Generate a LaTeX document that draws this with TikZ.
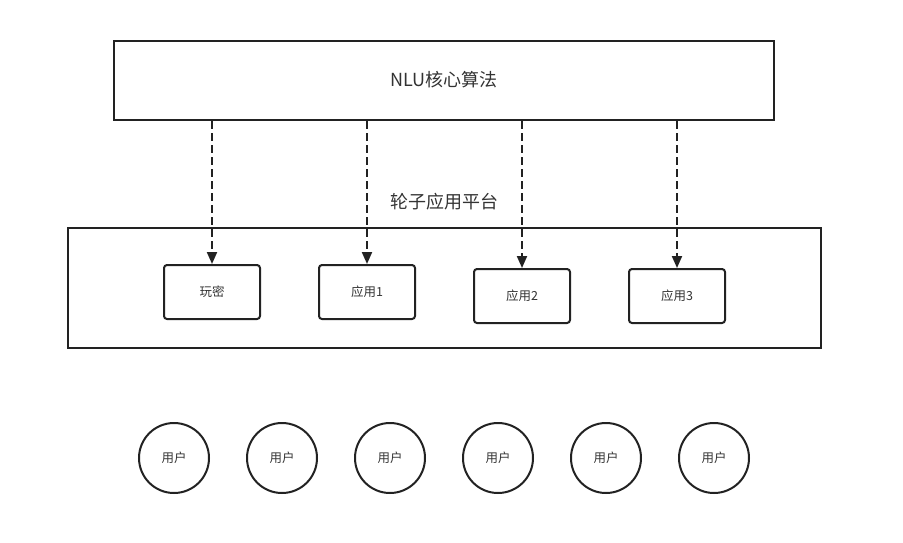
\documentclass[tikz,border=0pt]{standalone}
\usepackage{fontspec}
\setmainfont{Liberation Sans}
\newfontfamily\cjk{Noto Sans CJK SC}
\usetikzlibrary{arrows.meta}
\definecolor{ink}{HTML}{222222}
\definecolor{txt}{HTML}{333333}
\begin{document}
\begin{tikzpicture}[x=1pt,y=-1pt,
  frame/.style={draw=ink,line width=2pt,fill=white},
  appbox/.style={draw=ink,line width=2pt,rounded corners=3pt,minimum width=96pt,minimum height=54pt,
    inner sep=0pt,text=txt,font=\cjk\fontsize{12.5}{14}\selectfont},
  user/.style={draw=ink,line width=2pt,circle,minimum size=70pt,inner sep=0pt,
    text=txt,font=\cjk\fontsize{12.5}{14}\selectfont},
  flow/.style={draw=ink,line width=2pt,dash pattern=on 8pt off 4pt,
    -{Triangle[length=12pt,width=10pt]}},
  big/.style={text=txt,font=\cjk\fontsize{18}{20}\selectfont}]
  \useasboundingbox (0,0) rectangle (903,542);

  % core algorithm box
  \draw[frame] (114,41) rectangle (774,120);
  \node[big] (core) at (444,80) {NLU核心算法};

  % platform frame and its title
  \draw[frame] (68,228) rectangle (821,348);
  \node[big] (plat) at (444,202) {轮子应用平台};

  % applications on the platform
  \node[appbox] (a0) at (212,292) {玩密};
  \node[appbox] (a1) at (367,292) {应用1};
  \node[appbox] (a2) at (522,296) {应用2};
  \node[appbox] (a3) at (677,296) {应用3};

  % anchors on the bottom edge of the core box
  \coordinate (c0) at (212,121);
  \coordinate (c1) at (367,121);
  \coordinate (c2) at (522,121);
  \coordinate (c3) at (677,121);

  \draw[flow] (c0) -- (a0.north);
  \draw[flow] (c1) -- (a1.north);
  \draw[flow] (c2) -- (a2.north);
  \draw[flow] (c3) -- (a3.north);

  % users
  \foreach \i/\x in {1/174,2/282,3/390,4/498,5/606,6/714}
    \node[user] (u\i) at (\x,458) {用户};
\end{tikzpicture}
\end{document}
